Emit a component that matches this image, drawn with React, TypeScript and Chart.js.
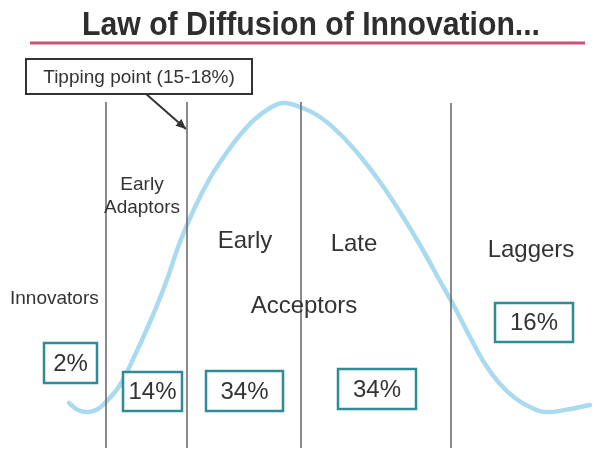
import React, { useEffect, useRef } from "react";
import { Chart, registerables } from "chart.js";

Chart.register(...registerables);

// ---- content / values ----
const TITLE = "Law of Diffusion of Innovation...";
const TIPPING_TEXT = "Tipping point (15-18%)";

// adoption curve (x = position along the adopter line, y = drawn height from top)
const curveX = [69, 78, 88, 98, 106, 120, 135, 150, 165, 180, 195, 210, 225, 240, 255, 270, 283, 300, 320, 340, 360, 380, 400, 420, 440, 455, 470, 485, 500, 515, 530, 545, 565, 590];
const curveY = [403, 410, 412, 409, 402, 385, 355, 322, 285, 242, 207, 178, 155, 135, 119, 108, 103, 107, 117, 134, 156, 182, 212, 245, 281, 308, 337, 364, 384, 398, 407, 412, 410, 405];

// segment boundaries
const dividerX = [106, 187, 301, 451];
const dividerTop = [102, 102, 102, 103];
const dividerBottom = [448, 448, 448, 448];

// tipping-point arrow
const arrowX = [145, 186];
const arrowY = [93, 129];

// segment labels
const segmentLabels = ["Innovators", "Early", "Adaptors", "Early", "Late", "Laggers", "Acceptors"];
// segment shares
const shareLabels = ["2%", "14%", "34%", "34%", "16%"];

// ---- layout (positions in chart units) ----
const segLabelLayout = [
  { x: 10, y: 304, size: 19, align: "left" },
  { x: 142, y: 190, size: 19, align: "center" },
  { x: 142, y: 213, size: 19, align: "center" },
  { x: 245, y: 248, size: 24, align: "center" },
  { x: 354, y: 251, size: 24, align: "center" },
  { x: 531, y: 257, size: 24, align: "center" },
  { x: 304, y: 313, size: 24, align: "center" },
];
const shareBoxLayout = [
  { l: 44, t: 343, r: 97, b: 383 },
  { l: 123, t: 372, r: 182, b: 411 },
  { l: 206, t: 371, r: 283, b: 411 },
  { l: 338, t: 369, r: 416, b: 409 },
  { l: 495, t: 303, r: 573, b: 342 },
];
const tipBox = { l: 26, t: 59, r: 252, b: 94 };
const titleLayout = { l: 82, r: 540, baseline: 35, size: 34 };
const ruleLayout = { l: 30, r: 585, y: 43 };

const FONT = "'Liberation Sans', Arial, Helvetica, sans-serif";
const TEXT = "#333333";

const annotations = {
  id: "annotations",
  afterDatasetsDraw(chart: any) {
    const ctx: CanvasRenderingContext2D = chart.ctx;
    const xs = chart.scales.x;
    const ys = chart.scales.y;
    const px = (v: number) => xs.getPixelForValue(v);
    const py = (v: number) => ys.getPixelForValue(v);
    ctx.save();

    // title
    ctx.fillStyle = "#2e2e30";
    ctx.font = `bold ${titleLayout.size}px 'Liberation Sans Narrow', 'Arial Narrow', ${FONT}`;
    ctx.textBaseline = "alphabetic";
    ctx.textAlign = "left";
    const tw = ctx.measureText(TITLE).width;
    const targetW = px(titleLayout.r) - px(titleLayout.l);
    ctx.save();
    ctx.translate(px(titleLayout.l), py(titleLayout.baseline));
    ctx.scale(targetW / tw, 1);
    ctx.fillText(TITLE, 0, 0);
    ctx.restore();

    // red rule
    ctx.strokeStyle = "#cc5278";
    ctx.lineWidth = 3;
    ctx.beginPath();
    ctx.moveTo(px(ruleLayout.l), py(ruleLayout.y));
    ctx.lineTo(px(ruleLayout.r), py(ruleLayout.y));
    ctx.stroke();

    // tipping point box
    ctx.fillStyle = "#ffffff";
    ctx.strokeStyle = "#333333";
    ctx.lineWidth = 2;
    const tl = px(tipBox.l), tt = py(tipBox.t), tr = px(tipBox.r), tb = py(tipBox.b);
    ctx.fillRect(tl, tt, tr - tl, tb - tt);
    ctx.strokeRect(tl, tt, tr - tl, tb - tt);
    ctx.fillStyle = TEXT;
    ctx.font = `19px ${FONT}`;
    ctx.textAlign = "center";
    ctx.textBaseline = "middle";
    ctx.fillText(TIPPING_TEXT, (tl + tr) / 2, (tt + tb) / 2 + 1);

    // arrow head
    const ax0 = px(arrowX[0]), ay0 = py(arrowY[0]);
    const ax1 = px(arrowX[1]), ay1 = py(arrowY[1]);
    const ang = Math.atan2(ay1 - ay0, ax1 - ax0);
    const hl = 10, hw = 4.5;
    ctx.fillStyle = "#333333";
    ctx.beginPath();
    ctx.moveTo(ax1, ay1);
    ctx.lineTo(ax1 - hl * Math.cos(ang) + hw * Math.sin(ang), ay1 - hl * Math.sin(ang) - hw * Math.cos(ang));
    ctx.lineTo(ax1 - hl * Math.cos(ang) - hw * Math.sin(ang), ay1 - hl * Math.sin(ang) + hw * Math.cos(ang));
    ctx.closePath();
    ctx.fill();

    // segment labels
    ctx.fillStyle = TEXT;
    ctx.textBaseline = "alphabetic";
    segmentLabels.forEach((s, i) => {
      const L = segLabelLayout[i];
      ctx.font = `${L.size}px ${FONT}`;
      ctx.textAlign = L.align as CanvasTextAlign;
      ctx.fillText(s, px(L.x), py(L.y));
    });

    // share boxes
    shareLabels.forEach((s, i) => {
      const B = shareBoxLayout[i];
      const l = px(B.l), t = py(B.t), r = px(B.r), b = py(B.b);
      ctx.fillStyle = "#ffffff";
      ctx.fillRect(l, t, r - l, b - t);
      ctx.strokeStyle = "#2f8b95";
      ctx.lineWidth = 2.5;
      ctx.strokeRect(l, t, r - l, b - t);
      ctx.fillStyle = TEXT;
      ctx.font = `24px ${FONT}`;
      ctx.textAlign = "center";
      ctx.textBaseline = "middle";
      ctx.fillText(s, (l + r) / 2, (t + b) / 2 + 1);
    });

    ctx.restore();
  },
};

export default function App() {
  const ref = useRef<HTMLCanvasElement | null>(null);

  useEffect(() => {
    document.body.style.margin = "0";
    document.body.style.background = "#ffffff";
    if (!ref.current) return;

    const datasets: any[] = [];
    dividerX.forEach((x, i) => {
      datasets.push({
        data: [
          { x, y: dividerTop[i] },
          { x, y: dividerBottom[i] },
        ],
        borderColor: "#6e6e6e",
        borderWidth: 1.6,
        pointRadius: 0,
        tension: 0,
      });
    });
    datasets.push({
      data: curveX.map((x, i) => ({ x, y: curveY[i] })),
      borderColor: "#a9daf0",
      borderWidth: 4.5,
      pointRadius: 0,
      tension: 0.4,
      borderCapStyle: "round",
      borderJoinStyle: "round",
    });
    datasets.push({
      data: arrowX.map((x, i) => ({ x, y: arrowY[i] })),
      borderColor: "#333333",
      borderWidth: 2,
      pointRadius: 0,
      tension: 0,
    });

    const chart = new Chart(ref.current, {
      type: "line",
      data: { datasets },
      options: {
        animation: false,
        responsive: false,
        devicePixelRatio: 1,
        layout: { padding: 0 },
        plugins: { legend: { display: false }, tooltip: { enabled: false } },
        scales: {
          x: { type: "linear", min: 0, max: 602, display: false },
          y: { type: "linear", min: 0, max: 459, reverse: true, display: false },
        },
      },
      plugins: [annotations],
    });
    return () => chart.destroy();
  }, []);

  return <canvas ref={ref} width={602} height={459} style={{ display: "block" }} />;
}
